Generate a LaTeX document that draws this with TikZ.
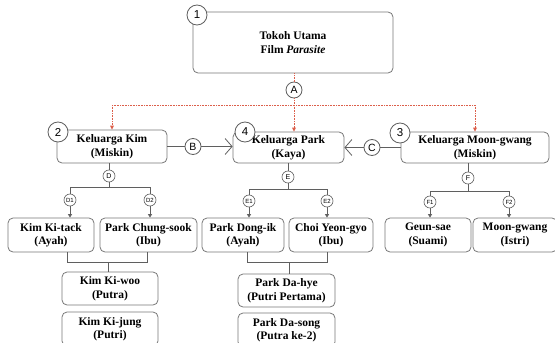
\documentclass[tikz,border=0pt]{standalone}
\usepackage{fontspec}
\setmainfont{Liberation Serif}
\newfontfamily\circfont{Liberation Sans}
\usetikzlibrary{arrows.meta}
\definecolor{lin}{RGB}{95,95,95}
\definecolor{bord}{RGB}{120,120,120}
\definecolor{redl}{RGB}{220,95,75}
\tikzset{
  box/.style={draw=bord,line width=0.8pt,rounded corners=5pt,fill=white,inner sep=0pt,align=center,
    font=\fontsize{11.5}{13.5}\selectfont\bfseries},
  bignum/.style={circle,draw=lin,line width=0.8pt,fill=white,minimum size=20pt,inner sep=0pt,font=\circfont\fontsize{11.5}{11.5}\selectfont},
  midc/.style={circle,draw=lin,line width=0.8pt,fill=white,minimum size=16pt,inner sep=0pt,font=\circfont\fontsize{10.5}{10.5}\selectfont},
  smc/.style={circle,draw=lin,line width=0.6pt,fill=white,minimum size=12pt,inner sep=0pt,font=\circfont\fontsize{7}{7}\selectfont},
  tinyc/.style={circle,draw=lin,line width=0.6pt,fill=white,minimum size=12pt,inner sep=0pt,font=\circfont\fontsize{6}{6}\selectfont},
  conn/.style={draw=lin,line width=0.8pt},
  redc/.style={draw=redl,line width=0.6pt,densely dotted},
  redarr/.style={redc,-{Triangle[length=4pt,width=4pt,fill=redl,line width=0pt]}},
  smarr/.style={conn,-{Triangle[length=3.5pt,width=4pt]}},
  chev/.style={draw=lin,line width=0.8pt,-{Straight Barb[length=7pt,width=16pt,line width=0.8pt]}}
}
\begin{document}
\begin{tikzpicture}[x=1pt,y=-1pt]
\useasboundingbox (0,0) rectangle (555,343);
\clip (0,0) rectangle (555,343);
% main boxes
\node[box,minimum width=200pt,minimum height=61pt] (top) at (293,42.5) {Tokoh Utama\\Film \textit{Parasite}};
\node[box,minimum width=110pt,minimum height=33pt] (kim) at (112,146.5) {Keluarga Kim\\(Miskin)};
\node[box,minimum width=111pt,minimum height=31pt] (park) at (288.5,147.5) {Keluarga Park\\(Kaya)};
\node[box,minimum width=148pt,minimum height=31pt] (moon) at (475,147.5) {Keluarga Moon-gwang\\(Miskin)};
% children boxes
\node[box,minimum width=86pt,minimum height=34pt] (kitack) at (51,235) {Kim Ki-tack\\(Ayah)};
\node[box,minimum width=97pt,minimum height=34pt] (chung) at (148.5,235) {Park Chung-sook\\(Ibu)};
\node[box,minimum width=96pt,minimum height=33pt] (kiwoo) at (110,288.5) {Kim Ki-woo\\(Putra)};
\node[box,minimum width=96pt,minimum height=34pt] (kijung) at (110,329) {Kim Ki-jung\\(Putri)};
\node[box,minimum width=82pt,minimum height=34pt] (dongik) at (243,235) {Park Dong-ik\\(Ayah)};
\node[box,minimum width=84pt,minimum height=34pt] (choi) at (331,235) {Choi Yeon-gyo\\(Ibu)};
\node[box,minimum width=97pt,minimum height=33pt] (dahye) at (286.5,290.5) {Park Da-hye\\(Putri Pertama)};
\node[box,minimum width=97pt,minimum height=34pt] (dasong) at (286.5,330) {Park Da-song\\(Putra ke-2)};
\node[box,minimum width=86pt,minimum height=34pt] (geunsae) at (428,235) {Geun-sae\\(Suami)};
\node[box,minimum width=84pt,minimum height=34pt] (mgistri) at (515,235) {Moon-gwang\\(Istri)};
% number circles
\node[bignum] (n1) at (197,15) {1};
\node[bignum] (n2) at (58,132) {2};
\node[bignum] (n4) at (245,132) {4};
\node[bignum] (n3) at (400,133) {3};
% A red connectors
\node[midc] (A) at (294,90) {A};
\coordinate (ra) at (294,105);
\coordinate (rl) at (112,105);
\coordinate (rr) at (475,105);
\draw[redc] (top.south -| A) -- (A);
\draw[redc] (A) -- (ra);
\draw[redc] (rl) -- (rr);
\draw[redarr] (rl) -- (rl |- kim.north);
\draw[redarr] (ra) -- (ra |- park.north);
\draw[redarr] (rr) -- (rr |- moon.north);
% B and C
\node[midc] (B) at (193,146.5) {B};
\node[midc] (C) at (372,147.5) {C};
\draw[conn] (kim.east |- B) -- (B);
\draw[chev] (B) -- (park.west |- B);
\draw[conn] (moon.west |- C) -- (C);
\draw[chev] (C) -- (park.east |- C);
% D branch
\node[smc] (D) at (109,176) {D};
\node[tinyc] (D1) at (70,200) {D1};
\node[tinyc] (D2) at (150,200) {D2};
\coordinate (dl) at (70,187);
\coordinate (dr) at (150,187);
\draw[conn] (kim.south -| D) -- (D);
\draw[conn] (D) -- (D |- dl);
\draw[conn] (D1) -- (dl) -- (dr) -- (D2);
\draw[smarr] (D1) -- (D1 |- kitack.north);
\draw[smarr] (D2) -- (D2 |- chung.north);
% E branch
\node[smc] (E) at (288,177) {E};
\node[tinyc] (E1) at (249,201) {E1};
\node[tinyc] (E2) at (327,201) {E2};
\coordinate (el) at (249,189);
\coordinate (er) at (327,189);
\draw[conn] (park.south -| E) -- (E);
\draw[conn] (E) -- (E |- el);
\draw[conn] (E1) -- (el) -- (er) -- (E2);
\draw[smarr] (E1) -- (E1 |- dongik.north);
\draw[smarr] (E2) -- (E2 |- choi.north);
% F branch
\node[smc] (F) at (468,178) {F};
\node[tinyc] (F1) at (430,202) {F1};
\node[tinyc] (F2) at (509,202) {F2};
\coordinate (fl) at (430,191);
\coordinate (fr) at (509,191);
\draw[conn] (moon.south -| F) -- (F);
\draw[conn] (F) -- (F |- fl);
\draw[conn] (F1) -- (fl) -- (fr) -- (F2);
\draw[smarr] (F1) -- (F1 |- geunsae.north);
\draw[smarr] (F2) -- (F2 |- mgistri.north);
% parents to child
\coordinate (kb1) at (67,262);
\coordinate (kb2) at (147,262);
\coordinate (km) at (108,262);
\draw[conn] (kitack.south -| kb1) -- (kb1) -- (kb2) -- (chung.south -| kb2);
\draw[conn] (km) -- (kiwoo.north -| km);
\coordinate (pb1) at (247,262);
\coordinate (pb2) at (327,262);
\coordinate (pm) at (289,262);
\draw[conn] (dongik.south -| pb1) -- (pb1) -- (pb2) -- (choi.south -| pb2);
\draw[conn] (pm) -- (dahye.north -| pm);
\end{tikzpicture}
\end{document}
